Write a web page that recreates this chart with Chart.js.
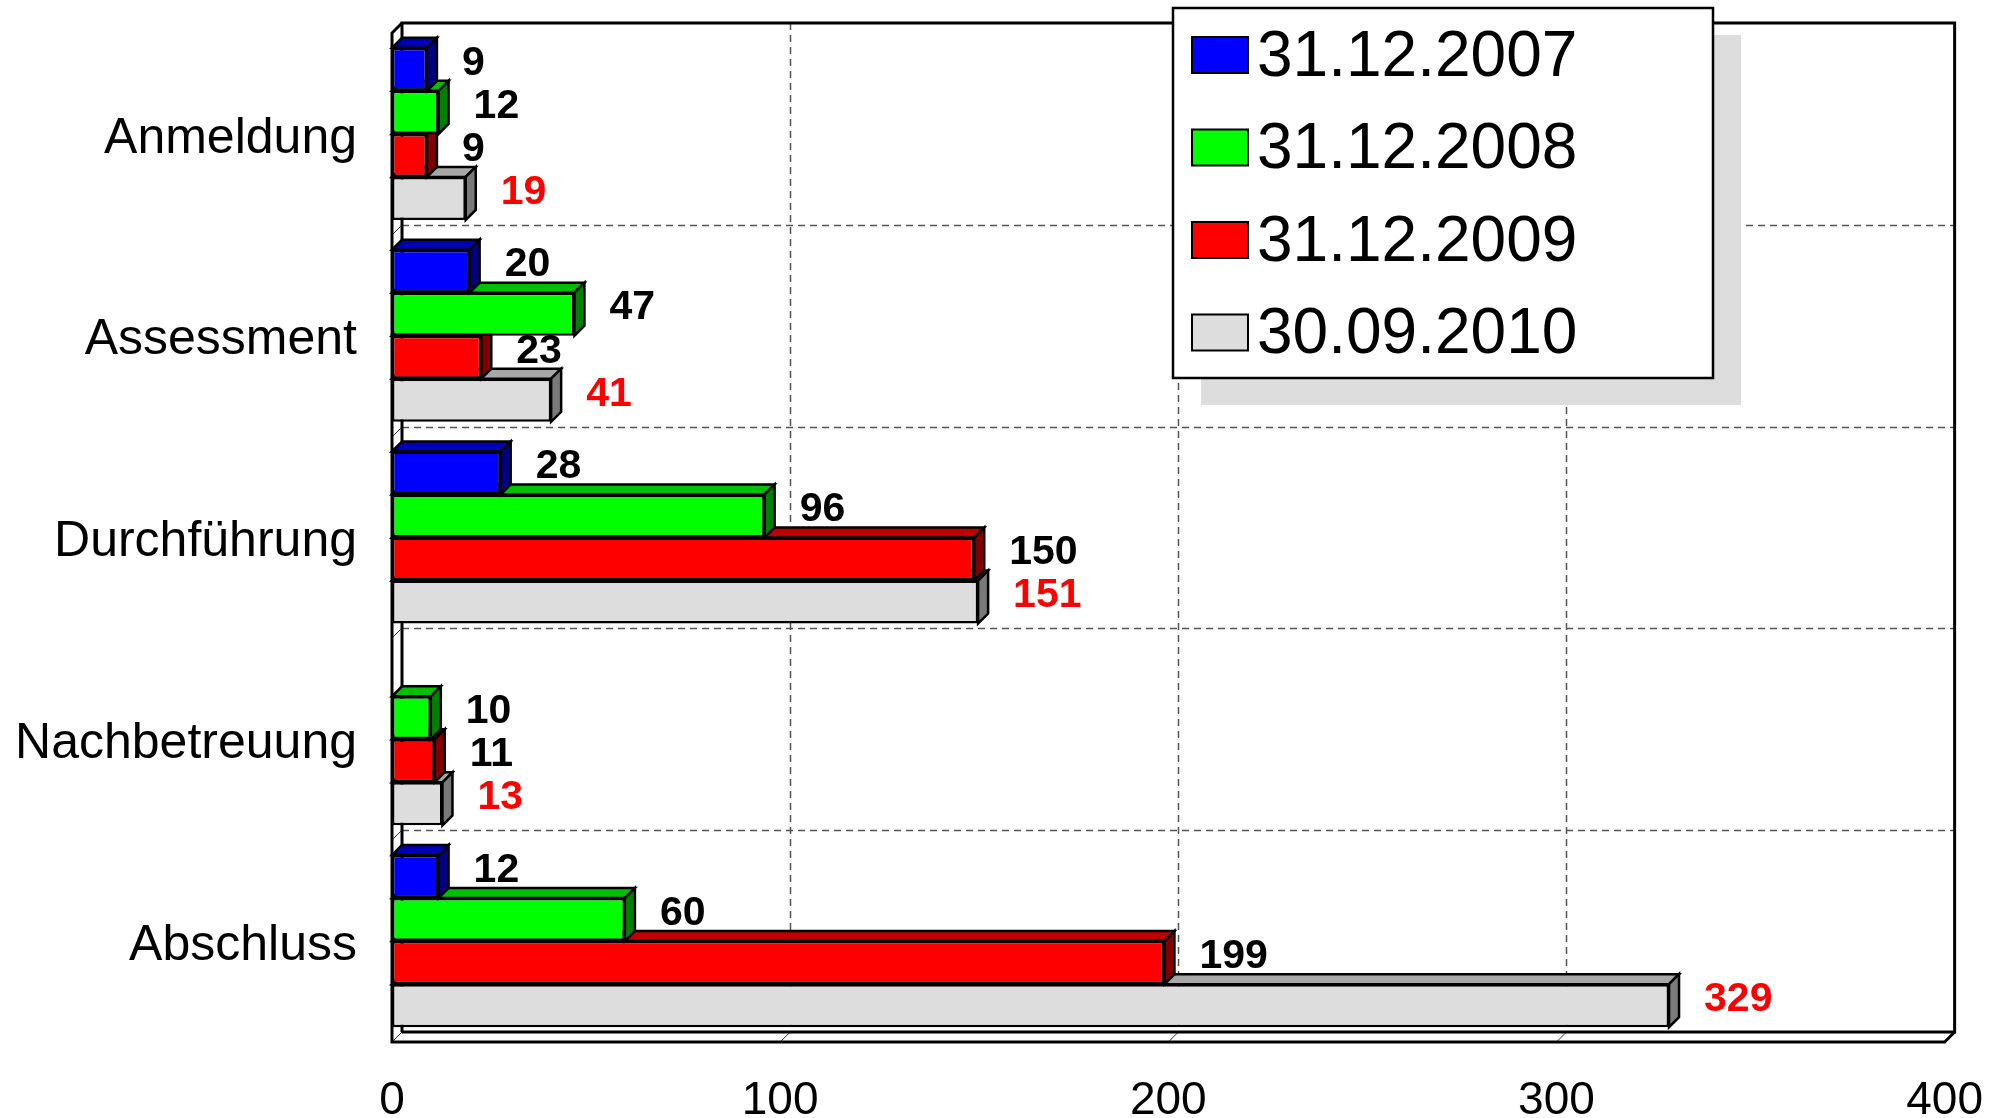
<!DOCTYPE html>
<html>
<head>
<meta charset="utf-8">
<script src="https://cdn.jsdelivr.net/npm/chart.js@4.4.0/dist/chart.umd.min.js"></script>
<style>
  html, body { margin: 0; padding: 0; background: #fff; }
  #wrap { width: 2015px; height: 1118px; }
</style>
</head>
<body>
<div id="wrap"><canvas id="chart" width="2015" height="1118"></canvas></div>
<script>
const kategorien = ['Anmeldung', 'Assessment', 'Durchführung', 'Nachbetreuung', 'Abschluss'];
const stichtage = ['31.12.2007', '31.12.2008', '31.12.2009', '30.09.2010'];
const werte2007 = [9, 20, 28, null, 12];
const werte2008 = [12, 47, 96, 10, 60];
const werte2009 = [9, 23, 150, 11, 199];
const werte2010 = [19, 41, 151, 13, 329];
const achsenTicks = [0, 100, 200, 300, 400];

// Farben: Vorderseite, Oberseite, rechte Seite, Beschriftung
const farbeVorne = ['#0000ff', '#00ff00', '#ff0000', '#dddddd'];
const farbeOben = ['#0000b8', '#00c000', '#c00000', '#a8a8a8'];
const farbeSeite = ['#000080', '#008000', '#800000', '#7a7a7a'];
const farbeText = ['#000000', '#000000', '#000000', '#ff0000'];

const TIEFE = 10;
const FONT = '"Liberation Sans", Arial, sans-serif';

const alleWerte = [werte2007, werte2008, werte2009, werte2010];

function poly(ctx, pts, fill) {
    ctx.beginPath();
    ctx.moveTo(pts[0][0], pts[0][1]);
    for (let k = 1; k < pts.length; k++) ctx.lineTo(pts[k][0], pts[k][1]);
    ctx.closePath();
    ctx.fillStyle = fill;
    ctx.fill();
    ctx.stroke();
}

const dreiD = {
    id: 'dreiD',
    beforeDatasetsDraw(chart) {
        const ctx = chart.ctx;
        const { left: L, right: R, top: T, bottom: B } = chart.chartArea;
        const xs = chart.scales.x, ys = chart.scales.y;
        const D = TIEFE;
        ctx.save();

        // Rückwand: gestrichelte Gitterlinien
        ctx.strokeStyle = '#555';
        ctx.lineWidth = 1.5;
        ctx.setLineDash([7, 5]);
        achsenTicks.slice(1, -1).forEach(v => {
            const x = Math.round(xs.getPixelForValue(v)) + D + 0.5;
            ctx.beginPath(); ctx.moveTo(x, T - D); ctx.lineTo(x, B - D); ctx.stroke();
        });
        const grenzen = [];
        for (let i = 0; i < kategorien.length - 1; i++) {
            grenzen.push(Math.round((ys.getPixelForTick(i) + ys.getPixelForTick(i + 1)) / 2));
        }
        grenzen.forEach(y => {
            ctx.beginPath(); ctx.moveTo(L + D, y - D + 0.5); ctx.lineTo(R + D, y - D + 0.5); ctx.stroke();
        });
        ctx.setLineDash([]);

        // schräge Striche an Boden und linker Wand
        ctx.strokeStyle = '#333';
        ctx.lineWidth = 1;
        achsenTicks.slice(1, -1).forEach(v => {
            const x = xs.getPixelForValue(v);
            ctx.beginPath(); ctx.moveTo(x, B); ctx.lineTo(x + D, B - D); ctx.stroke();
        });
        grenzen.forEach(y => {
            ctx.beginPath(); ctx.moveTo(L, y); ctx.lineTo(L + D, y - D); ctx.stroke();
        });
        ctx.beginPath(); ctx.moveTo(L, B); ctx.lineTo(L + D, B - D); ctx.stroke();

        // Rahmen
        ctx.strokeStyle = '#000';
        ctx.lineWidth = 3;
        ctx.lineJoin = 'miter';
        ctx.beginPath();
        ctx.moveTo(L + D, B - D); ctx.lineTo(L + D, T - D); ctx.lineTo(R + D, T - D);
        ctx.lineTo(R + D, B - D); ctx.lineTo(L + D, B - D);
        ctx.stroke();
        ctx.beginPath();
        ctx.moveTo(L + D, T - D); ctx.lineTo(L, T); ctx.lineTo(L, B);
        ctx.lineTo(R, B); ctx.lineTo(R + D, B - D);
        ctx.stroke();

        // Werte-Beschriftung (vor den Balken, damit Oberseiten sie überdecken)
        ctx.font = 'bold 41px ' + FONT;
        ctx.textAlign = 'left';
        ctx.textBaseline = 'middle';
        chart.data.datasets.forEach((ds, d) => {
            const meta = chart.getDatasetMeta(d);
            meta.data.forEach((el, i) => {
                const v = ds.data[i];
                if (v === null || v === undefined) return;
                const p = el.getProps(['x', 'y'], true);
                ctx.fillStyle = farbeText[d];
                ctx.fillText(String(v), p.x + 35, p.y - 6);
            });
        });

        // Balken von unten nach oben zeichnen
        ctx.lineWidth = 2.5;
        ctx.strokeStyle = '#000';
        for (let i = 0; i < kategorien.length; i++) {
            for (let d = chart.data.datasets.length - 1; d >= 0; d--) {
                const v = chart.data.datasets[d].data[i];
                if (v === null || v === undefined) continue;
                const el = chart.getDatasetMeta(d).data[i];
                const p = el.getProps(['x', 'y', 'base', 'height'], true);
                const oben = p.y - p.height / 2, unten = p.y + p.height / 2;
                poly(ctx, [[p.base, oben], [p.base + D, oben - D], [p.x + D, oben - D], [p.x, oben]], farbeOben[d]);
                poly(ctx, [[p.x, oben], [p.x + D, oben - D], [p.x + D, unten - D], [p.x, unten]], farbeSeite[d]);
                el.draw(ctx);
            }
        }
        ctx.restore();
        return false;
    },
    afterDraw(chart) {
        const ctx = chart.ctx;
        ctx.save();
        // Legende mit Schatten
        ctx.fillStyle = '#dddddd';
        ctx.fillRect(1201, 35, 540, 370);
        ctx.fillStyle = '#ffffff';
        ctx.fillRect(1173, 8, 540, 370);
        ctx.strokeStyle = '#000';
        ctx.lineWidth = 2.5;
        ctx.strokeRect(1173, 8, 540, 370);
        ctx.font = '64px ' + FONT;
        ctx.textAlign = 'left';
        ctx.textBaseline = 'middle';
        chart.data.datasets.forEach((ds, d) => {
            const yc = 55 + d * 92.5;
            ctx.fillStyle = ds.backgroundColor;
            ctx.fillRect(1192, yc - 18, 56, 36);
            ctx.lineWidth = 2;
            ctx.strokeRect(1192, yc - 18, 56, 36);
            ctx.fillStyle = '#000';
            ctx.fillText(ds.label, 1257, yc + 3);
        });
        ctx.restore();
    }
};

const datasets = stichtage.map((label, d) => ({
    label: label,
    data: alleWerte[d],
    backgroundColor: farbeVorne[d],
    borderColor: '#000000',
    borderWidth: 2.5,
    borderSkipped: false,
    barPercentage: 1.0,
    categoryPercentage: 0.853
}));

new Chart(document.getElementById('chart'), {
    type: 'bar',
    data: { labels: kategorien, datasets: datasets },
    options: {
        responsive: false,
        animation: false,
        indexAxis: 'y',
        layout: { padding: { left: 0, right: 60, top: 33, bottom: 0 } },
        plugins: {
            legend: { display: false },
            tooltip: { enabled: false }
        },
        scales: {
            x: {
                min: 0,
                max: 400,
                ticks: {
                    stepSize: 100,
                    color: '#000',
                    font: { family: FONT, size: 46 },
                    padding: 32
                },
                grid: { display: false, drawTicks: false },
                border: { display: false },
                afterFit(s) { s.height = 76; }
            },
            y: {
                ticks: {
                    color: '#000',
                    font: { family: FONT, size: 50 },
                    padding: 35,
                    labelOffset: 5
                },
                grid: { display: false, drawTicks: false },
                border: { display: false },
                afterFit(s) {
                    s.width = 392;
                    s.paddingTop = 0;
                    s.paddingBottom = 0;
                }
            }
        }
    },
    plugins: [dreiD]
});
</script>
</body>
</html>
